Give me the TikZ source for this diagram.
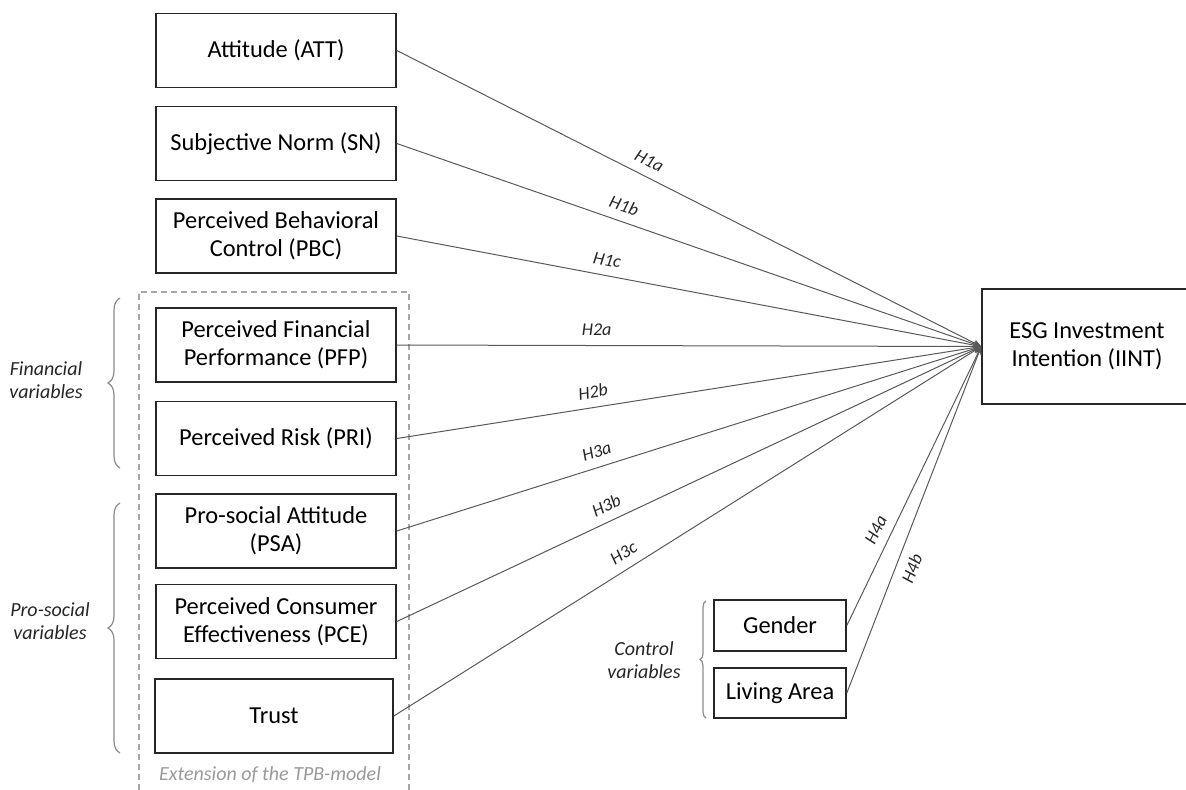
\documentclass[tikz,border=0pt]{standalone}
\usepackage{fontspec}
\setmainfont{Carlito}
\usetikzlibrary{arrows.meta,decorations.pathreplacing}
\begin{document}
\begin{tikzpicture}[x=0.5pt,y=-0.5pt,
  box/.style={draw=black!85, line width=0.8pt, align=center,
    font=\fontsize{12.2}{14}\selectfont, inner sep=0pt,
    minimum width=120pt, minimum height=37pt},
  conn/.style={draw=black!65, line width=0.5pt, -{Stealth[length=4pt,width=3.5pt]}},
  hlab/.style={font=\fontsize{9}{10}\selectfont\itshape, text=black!85, inner sep=1.5pt},
  brc/.style={draw=black!45, line width=0.6pt, decorate},
  sidelab/.style={font=\fontsize{10}{11.5}\selectfont\itshape, align=center, text=black!85}]
\useasboundingbox (0,0) rectangle (1186,789);

% dashed extension frame
\draw[draw=black!35, line width=0.6pt, dash pattern=on 3pt off 2pt]
  (139,800) -- (139,292) -- (409,292) -- (409,800);
\node[font=\fontsize{10}{12}\selectfont\itshape, text=black!40] (ext) at (270,775) {Extension of the TPB-model};

% boxes
\node[box] (att) at (276,50.5) {Attitude (ATT)};
\node[box] (sn) at (276,143.5) {Subjective Norm (SN)};
\node[box] (pbc) at (276,236) {Perceived Behavioral\\Control (PBC)};
\node[box] (pfp) at (276,345) {Perceived Financial\\Performance (PFP)};
\node[box] (pri) at (276,438.5) {Perceived Risk (PRI)};
\node[box] (psa) at (276,531) {Pro-social Attitude\\(PSA)};
\node[box] (pce) at (276,621.5) {Perceived Consumer\\Effectiveness (PCE)};
\node[box, minimum width=119pt] (trust) at (274,716) {Trust};
\node[box, minimum width=105pt, minimum height=57.5pt] (iint) at (1087,346.5) {ESG Investment\\Intention (IINT)};
\node[box, minimum width=66pt, minimum height=25.5pt] (gender) at (780,625.5) {Gender};
\node[box, minimum width=66pt, minimum height=25pt] (living) at (780,693) {Living Area};

% connectors
\draw[conn] (att.east) -- node[hlab, sloped, above=3pt, pos=0.42] {H1a} (iint.west);
\draw[conn] (sn.east) -- node[hlab, sloped, above=3pt, pos=0.38] {H1b} (iint.west);
\draw[conn] (pbc.east) -- node[hlab, sloped, above=3pt, pos=0.355] {H1c} (iint.west);
\draw[conn] (pfp.east) -- node[hlab, sloped, above=3pt, pos=0.342] {H2a} (iint.west);
\draw[conn] (pri.east) -- node[hlab, sloped, above=3pt, pos=0.34] {H2b} (iint.west);
\draw[conn] (psa.east) -- node[hlab, sloped, above=3pt, pos=0.35] {H3a} (iint.west);
\draw[conn] (pce.east) -- node[hlab, sloped, above=3pt, pos=0.37] {H3b} (iint.west);
\draw[conn] (trust.east) -- node[hlab, sloped, above=3pt, pos=0.405] {H3c} (iint.west);
\draw[conn] (gender.east) -- node[hlab, sloped, above=3pt, pos=0.32] {H4a} (iint.west);
\draw[conn] (living.east) -- node[hlab, sloped, below=3pt, pos=0.375] {H4b} (iint.west);

% braces and group labels
\draw[brc, decoration={brace,amplitude=6pt}] (120,468) -- (120,298);
\draw[brc, decoration={brace,amplitude=6pt}] (120,753) -- (120,503);
\draw[brc, decoration={brace,amplitude=3pt}] (706,718) -- (706,601);
\node[sidelab] (fin) at (46,380) {Financial\\variables};
\node[sidelab] (pro) at (50,621) {Pro-social\\variables};
\node[sidelab] (ctrl) at (644,660) {Control\\variables};
\end{tikzpicture}
\end{document}
